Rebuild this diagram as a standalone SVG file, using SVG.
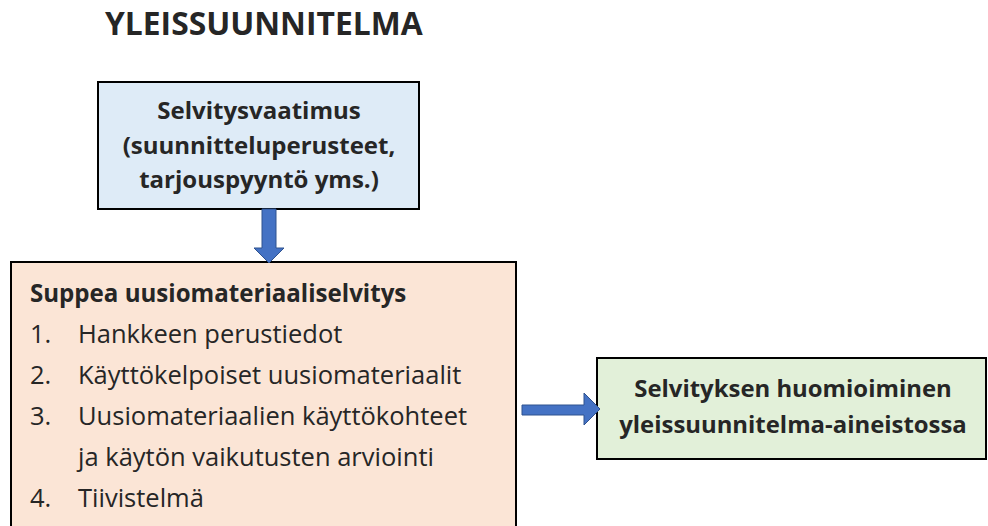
<svg xmlns="http://www.w3.org/2000/svg" width="988" height="526" viewBox="0 0 988 526">
<style>
text{font-family:"Open Sans","Liberation Sans",sans-serif;fill:#262626}
.b{font-weight:bold}
.box{stroke:#000;stroke-width:2}
.arr{fill:#4472C4;stroke:#2F528F;stroke-width:1}
</style>
<rect width="988" height="526" fill="#fff"/>
<text class="b" x="105" y="35" font-size="31.8">YLEISSUUNNITELMA</text>
<g id="selvitysvaatimus">
<rect class="box" x="98" y="82" width="321" height="127" fill="#DEEBF7"/>
<text class="b" font-size="24" text-anchor="middle"><tspan x="259" y="119">Selvitysvaatimus</tspan><tspan x="259" y="154">(suunnitteluperusteet,</tspan><tspan x="259" y="188">tarjouspyyntö yms.)</tspan></text>
</g>
<g id="suppea">
<rect class="box" x="11" y="262" width="505" height="280" fill="#FBE5D6"/>
<text class="b" x="30" y="302" font-size="24.1">Suppea uusiomateriaaliselvitys</text>
<g font-size="25.5">
<text x="30" y="343">1.</text><text x="78" y="343">Hankkeen perustiedot</text>
<text x="30" y="384">2.</text><text x="78" y="384">Käyttökelpoiset uusiomateriaalit</text>
<text x="30" y="425">3.</text><text x="78" y="425">Uusiomateriaalien käyttökohteet</text>
<text x="78" y="466">ja käytön vaikutusten arviointi</text>
<text x="30" y="507">4.</text><text x="78" y="507">Tiivistelmä</text>
</g>
</g>
<g id="huomioiminen">
<rect class="box" x="597" y="358" width="389" height="101" fill="#E2F0D9"/>
<text class="b" font-size="23.9" text-anchor="middle"><tspan x="793" y="397">Selvityksen huomioiminen</tspan><tspan x="793" y="433">yleissuunnitelma-aineistossa</tspan></text>
</g>
<g id="connectors">
<path class="arr" d="M262,209 H276 V248 H284 L269,263 L254,248 H262 Z"/>
<path class="arr" d="M522,405 H584 V393 L600,409 L584,425 V415 H522 Z"/>
</g>
</svg>
